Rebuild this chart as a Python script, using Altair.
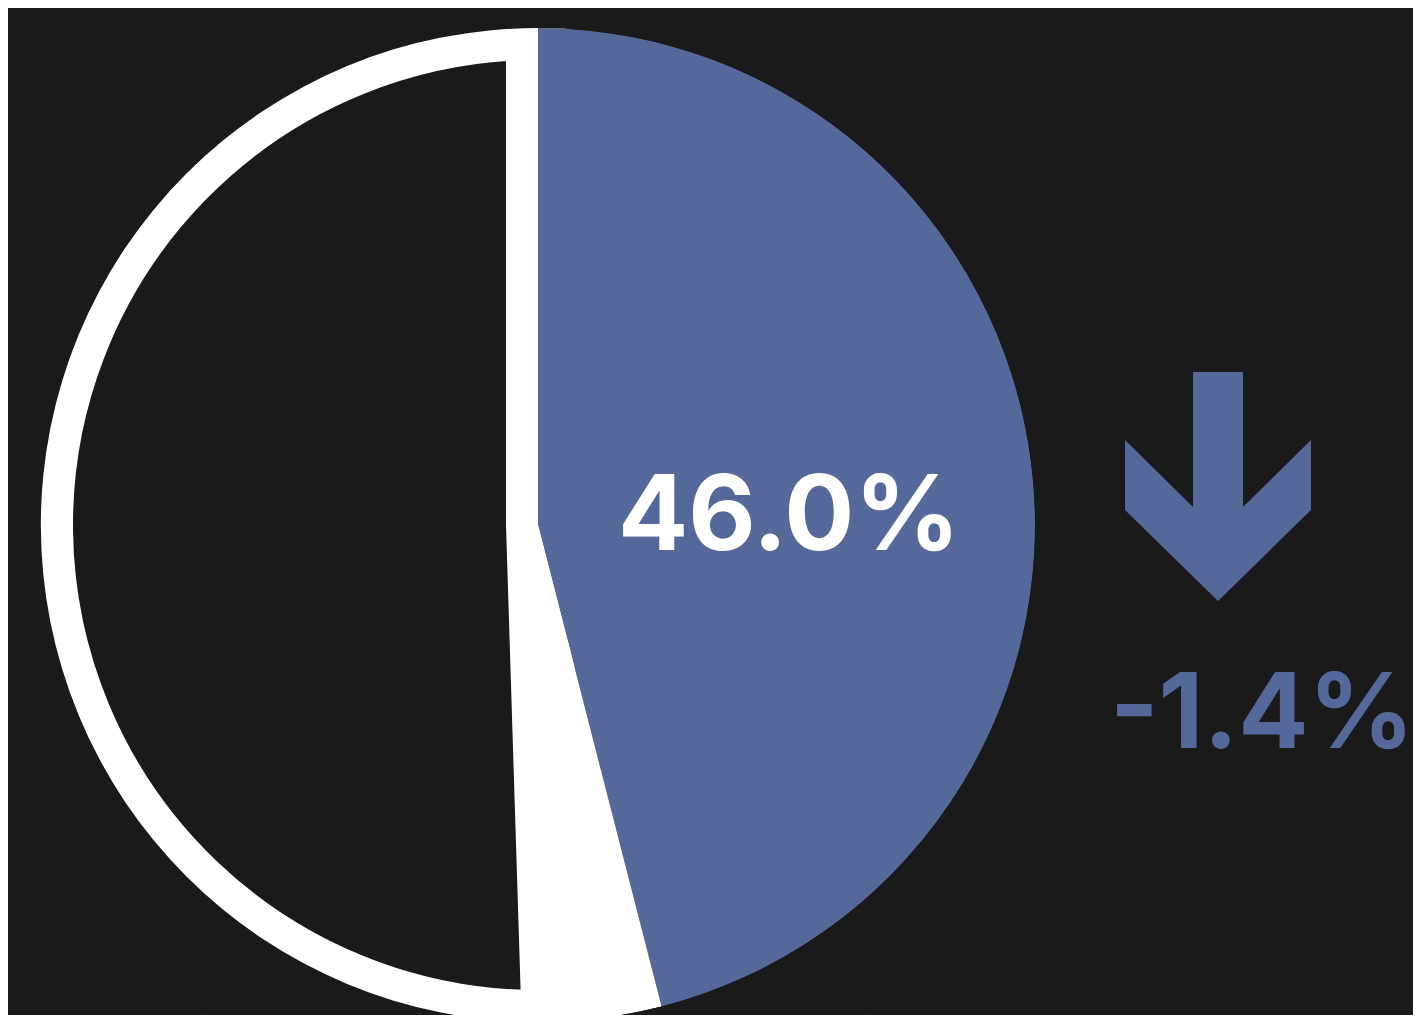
import math
import altair as alt
import pandas as pd

# ---- data ----
categories = ["current", "gap", "rest"]
shares = [46.0, 3.5, 50.5]          # percent of the circle
current_value = 46.0                # big label inside the blue slice
change_value = -1.4                 # change shown beside the pie

BG = "#1a1a1a"
BLUE = "#55689a"
WHITE = "#ffffff"
FONT = "Inter"

starts, ends, acc = [], [], 0.0
for s in shares:
    starts.append(acc)
    acc += s
    ends.append(acc)
slices = pd.DataFrame({"part": categories, "start": starts, "end": ends})
ring = pd.DataFrame({"part": ["trim"], "start": [0.0], "end": [acc]})

CX, CY, R = 530, 517, 497
theta_scale = alt.Scale(domain=[0, 100], range=[0, 2 * math.pi])


def slice_layer(name, **mark):
    return (
        alt.Chart(slices)
        .transform_filter(alt.datum.part == name)
        .mark_arc(**mark)
        .encode(
            theta=alt.Theta("start:Q", scale=theta_scale, stack=None),
            theta2="end:Q",
            x=alt.value(CX),
            y=alt.value(CY),
        )
    )


rest = slice_layer("rest", radius=R, fill=BG, stroke=WHITE, strokeWidth=64,
                   strokeJoin="miter")
current = slice_layer("current", radius=R, fill=BLUE, strokeWidth=0)
gap = slice_layer("gap", radius=R, fill=WHITE, strokeWidth=0)

trim = (
    alt.Chart(ring)
    .mark_arc(radius=R + 90, radius2=R, fill=BG, strokeWidth=0)
    .encode(
        theta=alt.Theta("start:Q", scale=theta_scale, stack=None),
        theta2="end:Q",
        x=alt.value(CX),
        y=alt.value(CY),
    )
)

labels = pd.DataFrame({
    "kind": ["value", "change"],
    "label": [f"{current_value:.1f}%", f"{change_value:.1f}%"],
})

value_text = (
    alt.Chart(labels)
    .transform_filter(alt.datum.kind == "value")
    .mark_text(font=FONT, fontWeight="bold", fontSize=104, color=WHITE,
               align="center", baseline="alphabetic")
    .encode(text="label:N", x=alt.value(781), y=alt.value(542))
)

change_text = (
    alt.Chart(labels)
    .transform_filter(alt.datum.kind == "change")
    .mark_text(font=FONT, fontWeight="bold", fontSize=104, color=BLUE,
               align="center", baseline="alphabetic")
    .encode(text="label:N", x=alt.value(1254), y=alt.value(740))
)

ARROW = ("M-0.2183,-1 L0.2183,-1 L0.2183,0.179 L0.812,-0.406 L0.812,0.205 "
         "L0,1 L-0.812,0.205 L-0.812,-0.406 L-0.2183,0.179 Z")

arrow = (
    alt.Chart(labels)
    .transform_filter(alt.datum.kind == "change")
    .mark_point(shape=ARROW, filled=True, size=229 * 229, opacity=1,
                fill=BLUE, strokeWidth=0)
    .encode(x=alt.value(1210), y=alt.value(478.5))
)

chart = (
    alt.layer(rest, current, gap, trim, value_text, arrow, change_text)
    .properties(
        width=1405, height=1007, background=BG,
        autosize=alt.AutoSizeParams(type="none"), padding=0,
    )
    .configure_view(stroke=None)
)

chart.save("out.html", embed_options={"renderer": "svg", "actions": False})
